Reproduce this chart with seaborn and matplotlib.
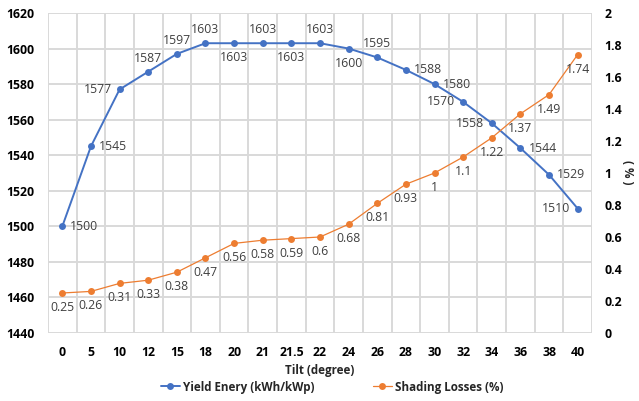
import matplotlib
matplotlib.use("Agg")
import matplotlib.pyplot as plt
import seaborn as sns
import numpy as np
import pandas as pd
from matplotlib.ticker import MultipleLocator, FixedLocator

# Tilt angles (categories) and the two series
tilt = ["0", "5", "10", "12", "15", "18", "20", "21", "21.5", "22",
        "24", "26", "28", "30", "32", "34", "36", "38", "40"]
yield_energy = [1500, 1545, 1577, 1587, 1597, 1603, 1603, 1603, 1603, 1603,
                1600, 1595, 1588, 1580, 1570, 1558, 1544, 1529, 1510]
shading_losses = [0.25, 0.26, 0.31, 0.33, 0.38, 0.47, 0.56, 0.58, 0.59, 0.6,
                  0.68, 0.81, 0.93, 1, 1.1, 1.22, 1.37, 1.49, 1.74]
right_ticks = [0, 0.2, 0.4, 0.6, 0.8, 1, 1.2, 1.4, 1.6, 1.8, 2]

# label placement for the yield series
yield_pos = ["r", "r", "l", "a", "a", "a", "b", "a", "b", "a",
             "b", "a", "r", "r", "l", "l", "r", "r", "l"]

sns.set_theme(style="white")
plt.rcParams["font.family"] = ["Open Sans", "DejaVu Sans"]

BLUE = "#4472C4"
ORANGE = "#ED7D31"
LABEL = "#404040"
FS = 8.8
FS_SMALL = 8.4

df = pd.DataFrame({"idx": np.arange(len(tilt)), "tilt": tilt,
                   "yield": yield_energy, "shading": shading_losses})

fig = plt.figure(figsize=(6.39, 4.01), dpi=100)
ax = fig.add_axes([48 / 639, (401 - 333) / 401, (592 - 48) / 639, (333 - 13) / 401])
ax2 = ax.twinx()

sns.lineplot(data=df, x="idx", y="yield", ax=ax, color=BLUE, lw=1.4,
             marker="o", markersize=5, markeredgewidth=0,
             label="Yield Enery (kWh/kWp)", legend=False)
sns.lineplot(data=df, x="idx", y="shading", ax=ax2, color=ORANGE, lw=0.9,
             marker="o", markersize=5, markeredgewidth=0,
             label="Shading Losses (%)", legend=False)

n = len(tilt)
for a in (ax, ax2):
    a.set_xlim(-0.5, n - 0.5)
ax.set_ylim(1440, 1620)
ax2.set_ylim(0, 2)
ax.yaxis.set_major_locator(MultipleLocator(20))
ax2.set_yticks(right_ticks)
ax2.set_yticklabels([f"{v:g}" for v in right_ticks])
ax.set_xticks(np.arange(n))
ax.set_xticklabels(tilt)
ax.xaxis.set_minor_locator(FixedLocator(np.arange(n + 1) - 0.5))

ax.grid(True, which="major", axis="y", color="#D9D9D9", lw=1.4)
ax.grid(True, which="minor", axis="x", color="#D9D9D9", lw=1.4)
ax.set_axisbelow(True)
ax2.grid(False)
for a in (ax, ax2):
    for s in a.spines.values():
        s.set_visible(False)

ax.tick_params(axis="both", which="both", length=0)
ax2.tick_params(axis="both", which="both", length=0)
ax.tick_params(axis="x", pad=9)
ax.tick_params(axis="y", pad=10)
ax2.tick_params(axis="y", pad=9)
for lbl in ax.get_xticklabels() + ax.get_yticklabels() + ax2.get_yticklabels():
    lbl.set_fontsize(FS)
    lbl.set_fontweight("bold")
    lbl.set_color("black")

ax.set_xlabel("Tilt (degree)", fontsize=FS_SMALL, fontweight="bold", labelpad=4)
ax.set_ylabel("")
ax2.set_ylabel("")
fig.text(628 / 639, 1 - 172 / 401, "( % )", rotation=270, ha="center", va="center",
         fontsize=FS_SMALL, fontweight="bold")

offsets = {"a": ((0, 7), "center", "bottom"),
           "b": ((0, -8), "center", "top"),
           "r": ((8, 0), "left", "center"),
           "l": ((-8, 0), "right", "center")}
for i, (v, p) in enumerate(zip(yield_energy, yield_pos)):
    off, ha, va = offsets[p]
    ax.annotate(f"{v:g}", (i, v), xytext=off, textcoords="offset pixels",
                ha=ha, va=va, fontsize=FS, color=LABEL)
for i, v in enumerate(shading_losses):
    ax2.annotate(f"{v:g}", (i, v), xytext=(0, -8), textcoords="offset pixels",
                 ha="center", va="top", fontsize=FS, color=LABEL)

h1, l1 = ax.get_legend_handles_labels()
h2, l2 = ax2.get_legend_handles_labels()
fig.legend(h1 + h2, l1 + l2, loc="center", bbox_to_anchor=(0.52, 14 / 401),
           ncol=2, frameon=False, columnspacing=5.0, handlelength=1.6,
           handletextpad=0.3, prop=dict(size=FS_SMALL, weight="bold"))

fig.savefig("out.png", dpi=100)
